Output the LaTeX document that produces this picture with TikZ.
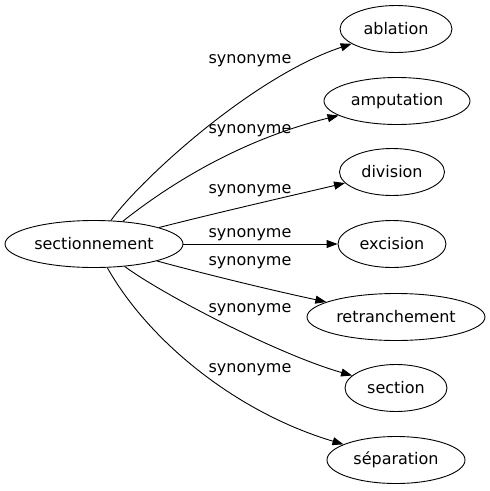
\documentclass[tikz,border=0pt]{standalone}
\usepackage{fontspec}
\setmainfont{DejaVu Sans}
\usetikzlibrary{arrows.meta,shapes.geometric}

\begin{document}
\begin{tikzpicture}[x=1pt,y=1pt,yscale=-1,xscale=1,
  word/.style={draw,ellipse,line width=0.9pt,inner sep=0pt,minimum height=47,font=\fontsize{16}{19}\selectfont},
  syn/.style={font=\fontsize{16}{19}\selectfont},
  rel/.style={line width=0.9pt,-{Triangle[length=11pt,width=8pt]}}]
\path (0,0) rectangle (490,491); %set diagram at 490 by 491

%Shape: Ellipse
\node[word,minimum width=178] (sec) at (94,244) {sectionnement};
%Shape: Ellipse
\node[word,minimum width=112] (abl) at (396,29) {ablation};
%Shape: Ellipse
\node[word,minimum width=146] (amp) at (397,101) {amputation};
%Shape: Ellipse
\node[word,minimum width=105] (div) at (392,172) {division};
%Shape: Ellipse
\node[word,minimum width=108] (exc) at (392,244) {excision};
%Shape: Ellipse
\node[word,minimum width=178] (ret) at (396,317) {retranchement};
%Shape: Ellipse
\node[word,minimum width=102] (sct) at (396,388) {section};
%Shape: Ellipse
\node[word,minimum width=138] (sep) at (396,460) {séparation};

%Curves
\draw[rel] (sec) .. controls (140,180) and (252,77) .. (abl);
\draw[rel] (sec) .. controls (170,184) and (240,140) .. (amp);
\draw[rel] (sec) .. controls (220,212) and (290,196) .. (div);
%Straight Lines
\draw[rel] (sec) -- (exc);
\draw[rel] (sec) .. controls (220,278) and (280,292) .. (ret);
\draw[rel] (sec) .. controls (165,296) and (280,355) .. (sct);
\draw[rel] (sec) .. controls (148,340) and (235,412) .. (sep);

% Text Node
\node[syn] (l1) at (250,61) {synonyme};
% Text Node
\node[syn] (l2) at (250,131) {synonyme};
% Text Node
\node[syn] (l3) at (250,191) {synonyme};
% Text Node
\node[syn] (l4) at (250,235) {synonyme};
% Text Node
\node[syn] (l5) at (250,263) {synonyme};
% Text Node
\node[syn] (l6) at (250,310) {synonyme};
% Text Node
\node[syn] (l7) at (250,370) {synonyme};

\end{tikzpicture}
\end{document}
